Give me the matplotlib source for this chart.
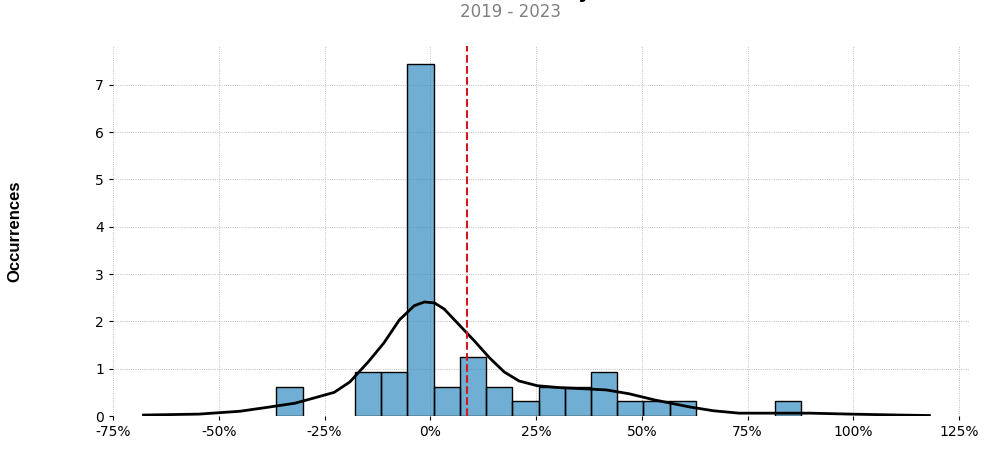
import numpy as np
import matplotlib
matplotlib.use("Agg")
import matplotlib.pyplot as plt
from matplotlib.ticker import FuncFormatter

# Datos (retornos mensuales 2019 - 2023)
bin_start = -0.364
bin_width = 0.062
counts = [2, 0, 0, 3, 3, 24, 2, 4, 2, 1, 2, 2, 3, 1, 1, 1, 0, 0, 0, 1]

# Curva KDE (retorno, densidad)
kde_x = [-0.678, -0.547, -0.45, -0.38, -0.32, -0.275, -0.227, -0.19, -0.145, -0.11,
         -0.073, -0.038, -0.014, 0.01, 0.033, 0.069, 0.104, 0.14, 0.175, 0.21,
         0.253, 0.305, 0.377, 0.417, 0.47, 0.53, 0.614, 0.67, 0.73, 0.827,
         0.898, 0.993, 1.11, 1.18]
kde_y = [0.02, 0.04, 0.1, 0.19, 0.27, 0.38, 0.5, 0.72, 1.16, 1.54,
         2.03, 2.33, 2.41, 2.39, 2.26, 1.92, 1.59, 1.23, 0.93, 0.74,
         0.64, 0.6, 0.57, 0.55, 0.47, 0.34, 0.19, 0.11, 0.06, 0.06,
         0.06, 0.04, 0.02, 0.01]

mean_return = 0.087
xticks = [-0.75, -0.5, -0.25, 0, 0.25, 0.5, 0.75, 1.0, 1.25]

# Convertir conteos a densidad
counts = np.array(counts, dtype=float)
density = counts / (counts.sum() * bin_width)
lefts = bin_start + bin_width * np.arange(len(counts))

fig = plt.figure(figsize=(9.94, 4.55), dpi=100)
ax = fig.add_axes([113 / 994, 1 - 416 / 455, (970 - 113) / 994, (416 - 46) / 455])

ax.bar(lefts, density, width=bin_width, align="edge", color="#348dc1", alpha=0.7,
       edgecolor="none", zorder=2)
ax.bar(lefts[counts > 0], density[counts > 0], width=bin_width, align="edge",
       facecolor="none", edgecolor="black", linewidth=1, zorder=3)
ax.plot(kde_x, kde_y, color="black", linewidth=2, zorder=4)
ax.axvline(mean_return, ls="--", lw=1.5, color="#d0191e", zorder=5)

ax.set_xlim(-0.75, 1.276)
ax.set_ylim(0, 7.82)
ax.set_xticks(xticks)
ax.xaxis.set_major_formatter(FuncFormatter(lambda v, p: f"{v * 100:.0f}%"))
ax.set_yticks(range(8))
ax.tick_params(labelsize=10, length=3, width=0.8)

for s in ax.spines.values():
    s.set_visible(False)
ax.grid(True, color="#aaaaaa", linestyle=":", linewidth=0.6, zorder=0)
ax.set_axisbelow(True)

ax.set_ylabel("Occurrences", fontsize=12, fontweight="bold", labelpad=52,
              family="Liberation Sans")

# Titulo (recortado arriba) y subtitulo
fig.text(0.513, 1 + 1.5 / 455, "Distribution of Monthly Returns", ha="center",
         va="baseline", fontsize=14, fontweight="bold")
fig.text(510 / 994, 1 - 12 / 455, "2019 - 2023", ha="center", va="center",
         fontsize=12, color="gray")

fig.savefig("out.png", dpi=100)
